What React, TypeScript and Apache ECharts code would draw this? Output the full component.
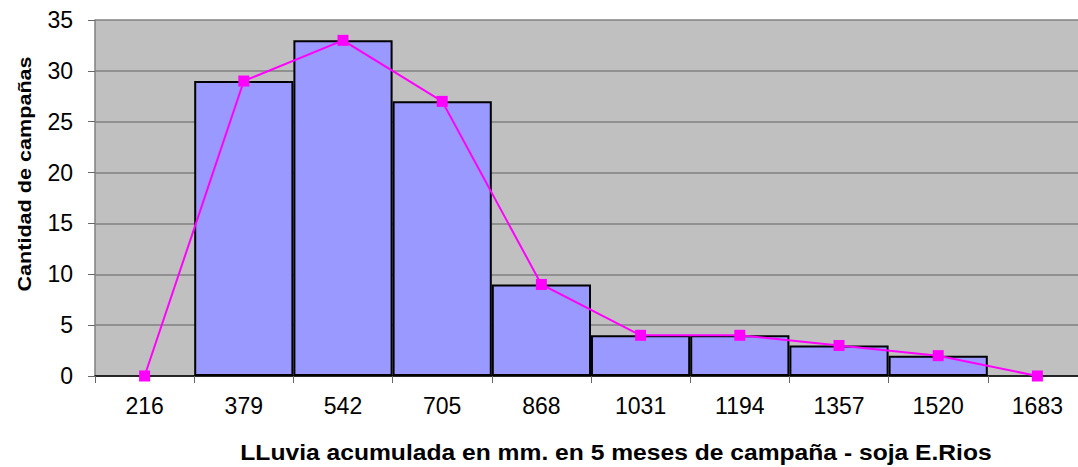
import React, { useEffect, useRef } from "react";
import * as echarts from "echarts";

const categories = ["216", "379", "542", "705", "868", "1031", "1194", "1357", "1520", "1683"];
const barValues = [0, 29, 33, 27, 9, 4, 4, 3, 2, 0];
const lineValues = [0, 29, 33, 27, 9, 4, 4, 3, 2, 0];
const yTitle = "Cantidad de campañas";
const xTitle = "LLuvia acumulada en mm. en 5 meses de campaña - soja E.Rios";

const FONT = "'Liberation Sans', Arial, sans-serif";

export default function App() {
  const ref = useRef<HTMLDivElement>(null);
  useEffect(() => {
    if (!ref.current) return;
    const chart = echarts.init(ref.current, undefined, { renderer: "svg" });
    chart.setOption({
      animation: false,
      backgroundColor: "#ffffff",
      textStyle: { fontFamily: FONT },
      grid: {
        left: 95,
        width: 992,
        top: 20,
        bottom: 91,
        show: true,
        backgroundColor: "#C0C0C0",
        borderWidth: 0,
        outerBoundsMode: "none",
        containLabel: false,
      },
      xAxis: {
        type: "category",
        data: categories,
        axisLine: { show: true, lineStyle: { color: "#000000", width: 1.5 } },
        axisTick: { show: true, length: 7, alignWithLabel: false, lineStyle: { color: "#666666", width: 1 } },
        axisLabel: { color: "#000000", fontSize: 23, fontFamily: FONT, margin: 18 },
        splitLine: { show: false },
      },
      yAxis: {
        type: "value",
        min: 0,
        max: 35,
        interval: 5,
        axisLine: { show: true, lineStyle: { color: "#808080", width: 1.5 } },
        axisTick: { show: true, length: 7, lineStyle: { color: "#666666", width: 1 } },
        axisLabel: { color: "#000000", fontSize: 23, fontFamily: FONT, margin: 22 },
        splitLine: { show: true, lineStyle: { color: "#808080", width: 1.5 } },
      },
      graphic: [
        {
          type: "text",
          x: 16,
          y: 174,
          rotation: Math.PI / 2,
          scaleX: 1.2,
          style: {
            text: yTitle,
            fontSize: 18,
            fontWeight: "bold",
            fontFamily: FONT,
            fill: "#000000",
            textAlign: "center",
            textVerticalAlign: "top",
          },
        },
        {
          type: "text",
          x: 616,
          y: 452,
          scaleX: 1.12,
          style: {
            text: xTitle,
            fontSize: 22,
            fontWeight: "bold",
            fontFamily: FONT,
            fill: "#000000",
            textAlign: "center",
            textVerticalAlign: "middle",
          },
        },
      ],
      series: [
        {
          type: "bar",
          data: barValues.map((v) => (v === 0 ? "-" : v)),
          barCategoryGap: "0%",
          itemStyle: { color: "#9999FF", borderColor: "#000000", borderWidth: 2 },
          z: 2,
        },
        {
          type: "line",
          data: lineValues,
          symbol: "rect",
          symbolSize: 11,
          showSymbol: true,
          lineStyle: { color: "#FF00FF", width: 2 },
          itemStyle: { color: "#FF00FF" },
          z: 3,
        },
      ],
    });
    return () => chart.dispose();
  }, []);
  return (
    <div
      ref={ref}
      style={{ position: "absolute", left: 0, top: 0, width: 1078, height: 467 }}
    />
  );
}
